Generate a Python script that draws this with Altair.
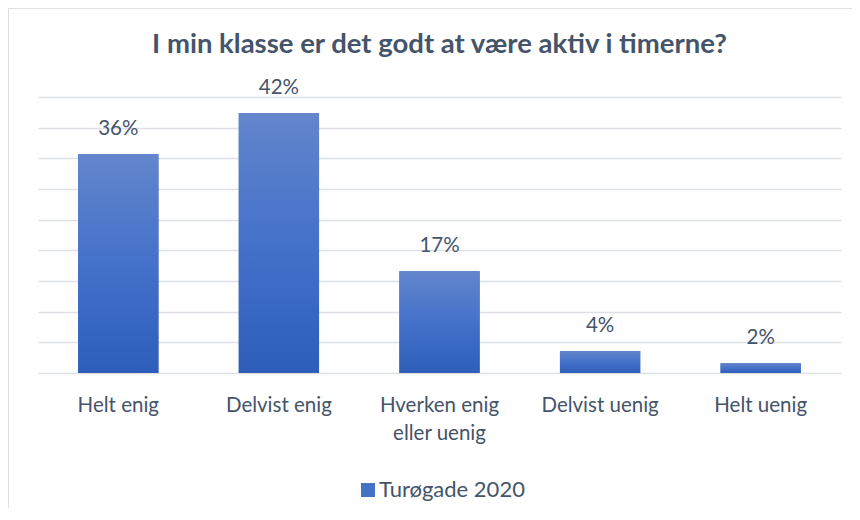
import altair as alt
import pandas as pd

categories = ["Helt enig", "Delvist enig", "Hverken enig|eller uenig", "Delvist uenig", "Helt uenig"]
values = [0.357, 0.424, 0.166, 0.036, 0.016]
series = ["Turøgade 2020"] * 5
y_ticks = [0, 0.05, 0.10, 0.15, 0.20, 0.25, 0.30, 0.35, 0.40, 0.45]

df = pd.DataFrame({"cat": categories, "val": values, "series": series})

TXT = "#44546A"
FONT = "Lato"
FS = 20.5
LINE = "#DDE1E6"

x_enc = alt.X("cat:N", sort=categories, title=None,
              scale=alt.Scale(paddingInner=0.5, paddingOuter=0.25),
              axis=alt.Axis(labelAngle=0, domain=False, ticks=False, labelPadding=22,
                            labelFontSize=FS, labelColor=TXT, labelFont=FONT,
                            labelBaseline="top", labelLineHeight=28,
                            labelExpr="split(datum.label, '|')", grid=False))
y_enc = alt.Y("val:Q", title=None, scale=alt.Scale(domain=[0, 0.45], nice=False),
              axis=alt.Axis(values=y_ticks, labels=False, ticks=False, domain=False,
                            grid=True, gridColor=LINE, gridWidth=1.5))

base = alt.Chart(df)

legend_bars = base.mark_bar().encode(
    x=x_enc, y=y_enc,
    color=alt.Color("series:N", title=None,
                    scale=alt.Scale(range=["#4472C4"]),
                    legend=alt.Legend(orient="none", legendX=319, legendY=382,
                                      symbolType="square", symbolSize=196,
                                      labelFontSize=22, labelColor=TXT, labelFont=FONT,
                                      symbolStrokeWidth=0, labelOffset=0, padding=0)),
)

grad = alt.Gradient(gradient="linear",
                    stops=[alt.GradientStop(color="#6386CC", offset=0),
                           alt.GradientStop(color="#4471CA", offset=0.5),
                           alt.GradientStop(color="#2E5EB9", offset=1)],
                    x1=0, x2=0, y1=0, y2=1)
grad_bars = base.mark_bar(color=grad).encode(x=x_enc, y=y_enc)

labels = base.mark_text(fontSize=FS, color=TXT, font=FONT, baseline="alphabetic", dy=-19).encode(
    x=x_enc, y=y_enc, text=alt.Text("val:Q", format=".0%"))

frame_top = alt.Chart(df).mark_rule(color=LINE, strokeWidth=1.5).encode(
    x=alt.value(-30), x2=alt.value(850), y=alt.value(-89), y2=alt.value(-89))
frame_left = alt.Chart(df).mark_rule(color=LINE, strokeWidth=1.5).encode(
    x=alt.value(-30), x2=alt.value(-30), y=alt.value(-89), y2=alt.value(420))

chart = alt.layer(legend_bars, grad_bars, labels, frame_top, frame_left).properties(
    width=803, height=276,
    padding={"left": 30, "top": 89, "right": 11, "bottom": 135},
    autosize=alt.AutoSizeParams(type="none"),
    title=alt.TitleParams("I min klasse er det godt at være aktiv i timerne?",
                          fontSize=27.5, font=FONT, fontWeight="bold", color=TXT,
                          anchor="middle", offset=0, dy=51),
).configure(background="white").configure_view(stroke="transparent", strokeWidth=0)

chart.save("out.html", embed_options={"renderer": "svg", "actions": False})
